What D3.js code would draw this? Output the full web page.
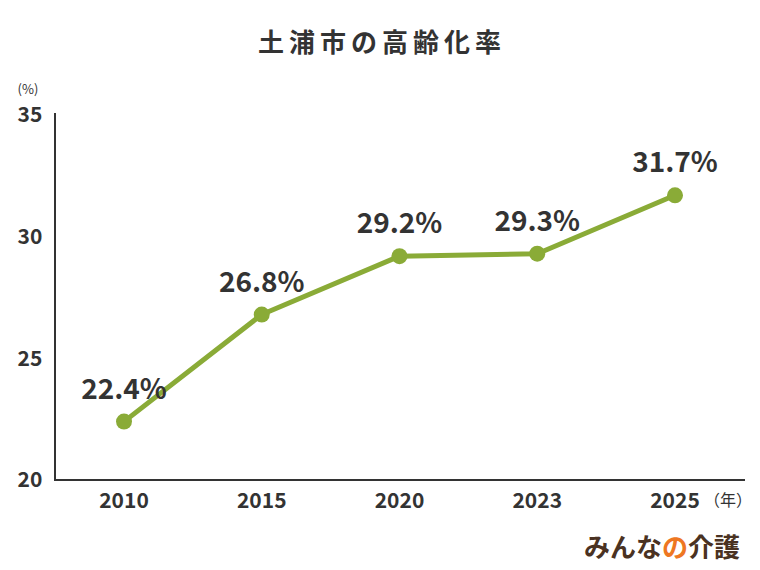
<!DOCTYPE html>
<html><head><meta charset="utf-8">
<script src="https://cdn.jsdelivr.net/npm/d3@7"></script>
<style>body{margin:0;background:#fff}text{font-family:"Noto Sans CJK JP","Noto Sans",sans-serif}</style>
</head><body><div id="chart"></div>
<script>
const years = ['2010', '2015', '2020', '2023', '2025'];
const rates = [22.4, 26.8, 29.2, 29.3, 31.7];
const yTicks = [20, 25, 30, 35];

const W = 760, H = 570;
const svg = d3.select('#chart').append('svg').attr('width', W).attr('height', H);

const x = d3.scalePoint().domain(years).range([124, 675]);
const y = d3.scaleLinear().domain([20, 35]).range([480, 115]);
const green = '#8aab37', ink = '#333333';

svg.append('text').attr('x', 382).attr('y', 52).attr('text-anchor', 'middle')
  .attr('font-size', 26).attr('font-weight', 'bold').attr('letter-spacing', 5)
  .attr('fill', ink).text('土浦市の高齢化率');

// axes
svg.append('line').attr('x1', 55).attr('x2', 55).attr('y1', 113).attr('y2', 481)
  .attr('stroke', ink).attr('stroke-width', 2);
svg.append('line').attr('x1', 54).attr('x2', 745).attr('y1', 480).attr('y2', 480)
  .attr('stroke', ink).attr('stroke-width', 2);

yTicks.forEach(t => {
  svg.append('text').attr('x', 30).attr('y', y(t)).attr('dy', '0.35em')
    .attr('text-anchor', 'middle').attr('font-size', 21).attr('font-weight', 'bold')
    .attr('fill', ink).text(t);
});
svg.append('text').attr('x', 28).attr('y', 94).attr('text-anchor', 'middle')
  .attr('font-size', 13).attr('fill', ink).text('(%)');

years.forEach(yr => {
  svg.append('text').attr('x', x(yr)).attr('y', 508).attr('text-anchor', 'middle')
    .attr('font-size', 21).attr('font-weight', 'bold').attr('fill', ink).text(yr);
});
svg.append('text').attr('x', 728).attr('y', 506).attr('text-anchor', 'middle')
  .attr('font-size', 16).attr('fill', ink).text('（年）');

const line = d3.line().x((d, i) => x(years[i])).y(d => y(d));
svg.append('path').datum(rates).attr('d', line).attr('fill', 'none')
  .attr('stroke', green).attr('stroke-width', 5).attr('stroke-linejoin', 'round');

rates.forEach((v, i) => {
  svg.append('circle').attr('cx', x(years[i])).attr('cy', y(v)).attr('r', 8).attr('fill', green);
  svg.append('text').attr('x', x(years[i])).attr('y', y(v) - 23).attr('text-anchor', 'middle')
    .attr('font-size', 28).attr('font-weight', 'bold').attr('fill', ink).text(v.toFixed(1) + '%');
});

// logo
const logo = svg.append('text').attr('x', 740).attr('y', 557).attr('text-anchor', 'end')
  .attr('font-size', 26).attr('font-weight', 'bold');
logo.append('tspan').attr('fill', '#4a3222').text('みんな');
logo.append('tspan').attr('fill', '#ee7722').text('の');
logo.append('tspan').attr('fill', '#4a3222').text('介護');
</script></body></html>
